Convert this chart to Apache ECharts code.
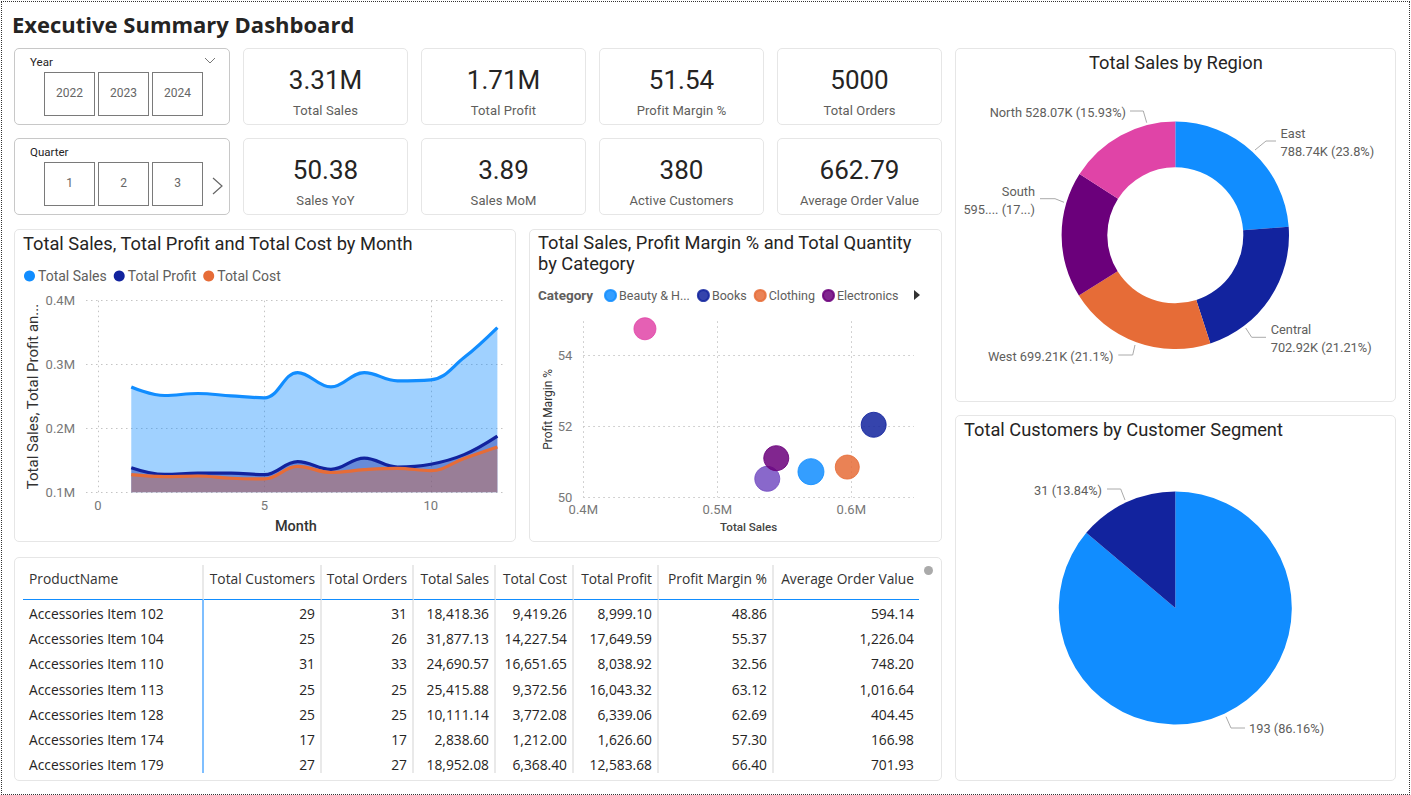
<!DOCTYPE html>
<html><head><meta charset="utf-8">
<script src="https://cdn.jsdelivr.net/npm/echarts@6/dist/echarts.min.js"></script>
<style>
html,body{margin:0;padding:0;background:#fff;width:1411px;height:795px;overflow:hidden}
#frame{position:absolute;left:1px;top:1px;width:1407px;height:792px;border:1px dotted #333}
.card{position:absolute;box-sizing:border-box;border:1px solid #e6e6e6;border-radius:5px;background:#fff}
.slicer{border-color:#c8c8c8}
#title{position:absolute;left:12px;top:9px;font:700 22px "Open Sans",sans-serif;color:#252423;white-space:nowrap}
.kv{position:absolute;left:0;right:0;text-align:center;top:13px;font:400 26px/36px Roboto,sans-serif;color:#252423}
.kl{position:absolute;left:0;right:0;text-align:center;top:53px;font:400 13px/18px Roboto,sans-serif;letter-spacing:.1px;color:#605E5C}
.sl{position:absolute;left:15px;top:6px;font:400 11.5px/14px Roboto,sans-serif;color:#252423}
.btn{position:absolute;box-sizing:border-box;top:23px;width:51px;height:44px;border:1.5px solid #7a7a7a;text-align:center;font:400 12px/41px Roboto,sans-serif;color:#666}
svg.ic{position:absolute;overflow:visible}
#chart{position:absolute;left:0;top:0;width:1411px;height:795px}
#tw{position:absolute;left:23px;top:565px;width:896px;height:208px;overflow:hidden}
table{border-collapse:separate;border-spacing:0;table-layout:fixed;width:896px;font:400 13.8px "Open Sans",sans-serif;color:#252423}
th,td{box-sizing:border-box;padding:0 5px 0 0;text-align:right;white-space:nowrap;font-weight:400;border-right:2.5px solid #e9e9e9}
th{height:35px;padding-bottom:8px;border-bottom:1.5px solid #118DFF;color:#333}
td{height:25.3px;padding-top:1px}
th:first-child,td:first-child{text-align:left;padding-left:6px}
td:first-child{border-right-color:#7fbfff}
th:last-child,td:last-child{border-right:none;padding-right:5px}
#thumb{position:absolute;left:924px;top:566px;width:9px;height:9px;border-radius:50%;background:#aaa}
</style></head><body>
<div id="frame"></div>
<div id="title">Executive Summary Dashboard</div>
<div id="cards"></div>
<div class="card" style="left:14px;top:229px;width:502px;height:313px"></div>
<div class="card" style="left:529px;top:229px;width:413px;height:313px"></div>
<div class="card" style="left:14px;top:557px;width:928px;height:224px"></div>
<div class="card" style="left:955px;top:48px;width:441px;height:354px"></div>
<div class="card" style="left:955px;top:415px;width:441px;height:366px"></div>
<div id="tw"></div><div id="thumb"></div>
<div id="chart"></div>
<script>
// ---------- KPI cards and slicers
var kpiValues=['3.31M','1.71M','51.54','5000','50.38','3.89','380','662.79'];
var kpiLabels=['Total Sales','Total Profit','Profit Margin %','Total Orders','Sales YoY','Sales MoM','Active Customers','Average Order Value'];
var yearOptions=['2022','2023','2024'];
var quarterOptions=['1','2','3'];
// ---------- Line chart
var months=[1,2,3,4,5,6,7,8,9,10,11,12];
var monthSales=[265000,251600,254700,251000,248000,287500,265000,287500,274500,276000,311000,358000];
var monthProfit=[138500,128000,130000,130000,127600,148000,136000,153600,139600,144000,159000,188000];
var monthCost=[127600,124500,125500,122000,121000,140600,131000,135400,137500,134000,153000,171000];
// ---------- Scatter chart (the last two category names are hidden behind the legend arrow)
var categories=['Beauty & H...','Books','Clothing','Electronics','Category 5','Category 6'];
var categorySales=[569900,616700,597000,544000,446000,537300];
var categoryMargin=[50.72,52.04,50.85,51.1,54.74,50.52];
var categoryQuantity=[2704,2500,2304,2500,1936,2500];
// ---------- Pies
var regions=['East','Central','West','South','North'];
var regionSales=[788.74,702.92,699.21,595.06,528.07];
var regionLabels=['East\n788.74K (23.8%)','Central\n702.92K (21.21%)','West 699.21K (21.1%)','South\n595.... (17...)','North 528.07K (15.93%)'];
var segments=['Segment A','Segment B'];
var segmentCustomers=[193,31];
var segmentLabels=['193 (86.16%)','31 (13.84%)'];
// ---------- Table
var tableHeaders=['ProductName','Total Customers','Total Orders','Total Sales','Total Cost','Total Profit','Profit Margin %','Average Order Value'];
var tableRows=[
['Accessories Item 102','29','31','18,418.36','9,419.26','8,999.10','48.86','594.14'],
['Accessories Item 104','25','26','31,877.13','14,227.54','17,649.59','55.37','1,226.04'],
['Accessories Item 110','31','33','24,690.57','16,651.65','8,038.92','32.56','748.20'],
['Accessories Item 113','25','25','25,415.88','9,372.56','16,043.32','63.12','1,016.64'],
['Accessories Item 128','25','25','10,111.14','3,772.08','6,339.06','62.69','404.45'],
['Accessories Item 174','17','17','2,838.60','1,212.00','1,626.60','57.30','166.98'],
['Accessories Item 179','27','27','18,952.08','6,368.40','12,583.68','66.40','701.93']];
var colWidths=[181,118,92,82,78,85,115,145];

var PAL=['#118DFF','#12239E','#E66C37','#6B007B','#E044A7','#744EC2'];
var GREY='#605E5C', DARK='#252423', FONT='Roboto, sans-serif';

// build DOM cards
var h='';
var kx=[243,421,599,777], ky=[48,138];
kpiValues.forEach(function(v,i){
  h+='<div class="card" style="left:'+kx[i%4]+'px;top:'+ky[i>>2]+'px;width:165px;height:77px"><div class="kv">'+v+'</div><div class="kl">'+kpiLabels[i]+'</div></div>';
});
function slicer(top,name,opts,extra){
  var s='<div class="card slicer" style="left:14px;top:'+top+'px;width:216px;height:77px"><div class="sl">'+name+'</div>';
  opts.forEach(function(o,i){s+='<div class="btn" style="left:'+(29+i*54)+'px">'+o+'</div>';});
  return s+extra+'</div>';
}
h+=slicer(48,'Year',yearOptions,'<svg class="ic" style="left:189px;top:8px" width="12" height="8"><polyline points="1,1 6,6 11,1" fill="none" stroke="#777" stroke-width="1"/></svg>');
h+=slicer(138,'Quarter',quarterOptions,'<svg class="ic" style="left:197px;top:38px" width="12" height="18"><polyline points="1,1 10,9 1,17" fill="none" stroke="#666" stroke-width="1.2"/></svg>');
document.getElementById('cards').innerHTML=h;

var t='<table><colgroup>'+colWidths.map(function(w){return '<col style="width:'+w+'px">';}).join('')+'</colgroup><thead><tr>'+
 tableHeaders.map(function(x){return '<th>'+x+'</th>';}).join('')+'</tr></thead><tbody>'+
 tableRows.map(function(r){return '<tr>'+r.map(function(c){return '<td>'+c+'</td>';}).join('')+'</tr>';}).join('')+'</tbody></table>';
document.getElementById('tw').innerHTML=t;

// ---------- ECharts
function zip(a,b){return a.map(function(x,i){return [x,b[i]];});}
function areaSeries(name,vals,color){
  return {name:name,type:'line',xAxisIndex:0,yAxisIndex:0,smooth:0.4,symbol:'none',data:zip(months,vals),
    lineStyle:{color:color,width:3.2},itemStyle:{color:color},areaStyle:{color:color,opacity:0.4}};
}
var dotted={show:true,lineStyle:{type:[1.5,3.5],color:'#c4c4c4',width:1}};
function M(v){return (v/1e6).toFixed(1)+'M';}
var scatterOrder=[0,1,2,5,3,4];
var scatterSeries=scatterOrder.map(function(i){
  return {name:categories[i],type:'scatter',xAxisIndex:1,yAxisIndex:1,
    data:[[categorySales[i],categoryMargin[i]]],
    symbolSize:Math.sqrt(categoryQuantity[i])/2,
    itemStyle:{color:PAL[i],opacity:0.85,borderColor:PAL[i],borderWidth:1}};
});
var titleFont={fontFamily:FONT,fontSize:18.3,fontWeight:400,color:DARK};
var regionLayouts=[
 {x:1280.5,y:142,align:'left',verticalAlign:'middle',labelLinePoints:[[1255,150],[1266,141],[1276,141]]},
 {x:1270.7,y:338,align:'left',verticalAlign:'middle',labelLinePoints:[[1245.7,328],[1251.7,337.3],[1266,337.3]]},
 {x:1113.5,y:356,align:'right',verticalAlign:'middle',labelLinePoints:[[1135,345],[1132.7,355],[1118.3,355]]},
 {x:1035,y:200,align:'right',verticalAlign:'middle',labelLinePoints:[[1064,202.3],[1055,198.7],[1040,198.7]]},
 {x:1126,y:112,align:'right',verticalAlign:'middle',labelLinePoints:[[1146.7,122.7],[1143.3,111],[1130,111]]}
];
var segmentLayouts=[
 {x:1249,y:728.7,align:'left',verticalAlign:'middle',labelLinePoints:[[1226,716.7],[1231,728],[1245,728]]},
 {x:1102,y:490,align:'right',verticalAlign:'middle',labelLinePoints:[[1125,500],[1120.7,489],[1107,489]]}
];
var option={
  animation:false,
  title:[
   {text:'Total Sales, Total Profit and Total Cost by Month',left:23,top:234,padding:0,textStyle:titleFont},
   {text:'Total Sales, Profit Margin % and Total Quantity\nby Category',left:538,top:232,padding:0,textStyle:Object.assign({lineHeight:21},titleFont)},
   {text:'Category',left:538,top:288,padding:0,textStyle:{fontFamily:FONT,fontSize:13.5,fontWeight:700,color:GREY}},
   {text:'Total Sales by Region',left:1089,top:53,padding:0,textStyle:titleFont},
   {text:'Total Customers by Customer Segment',left:964,top:420,padding:0,textStyle:titleFont}
  ],
  legend:[
   {data:['Total Sales','Total Profit','Total Cost'],left:24,top:269,padding:0,icon:'circle',itemWidth:11,itemHeight:11,itemGap:7,
    textStyle:{fontFamily:FONT,fontSize:14,color:GREY,padding:[0,0,0,-2]}},
   {data:categories.slice(0,4),left:604,top:289,padding:0,icon:'circle',itemWidth:11,itemHeight:11,itemGap:7,
    textStyle:{fontFamily:FONT,fontSize:12.5,color:GREY,padding:[0,0,0,-2]}}
  ],
  grid:[
   {left:86,top:300.7,width:419.7,height:191.6},
   {left:583.3,top:321.3,width:330.7,height:176}
  ],
  xAxis:[
   {gridIndex:0,type:'value',min:-0.36,max:12.25,name:'Month',nameLocation:'middle',nameGap:27,
    nameTextStyle:{fontFamily:FONT,fontSize:14.5,fontWeight:500,color:'#333'},
    axisLine:{show:false},axisTick:{show:false,customValues:[0,5,10]},
    axisLabel:{customValues:[0,5,10],fontFamily:FONT,fontSize:13,color:'#777',margin:7},splitLine:dotted},
   {gridIndex:1,type:'value',min:400000,max:646800,name:'Total Sales',nameLocation:'middle',nameGap:24,
    nameTextStyle:{fontFamily:FONT,fontSize:11.6,fontWeight:500,color:'#444'},
    axisLine:{show:false},axisTick:{show:false,customValues:[400000,500000,600000]},
    axisLabel:{customValues:[400000,500000,600000],formatter:M,fontFamily:FONT,fontSize:13,color:'#777',margin:6},splitLine:dotted}
  ],
  yAxis:[
   {gridIndex:0,type:'value',min:100000,max:400000,interval:100000,name:'Total Sales, Total Profit an...',nameLocation:'middle',nameGap:46,
    nameTextStyle:{fontFamily:FONT,fontSize:15,color:'#333'},
    axisLine:{show:false},axisTick:{show:false},
    axisLabel:{formatter:M,fontFamily:FONT,fontSize:13,color:'#777',margin:11},splitLine:dotted},
   {gridIndex:1,type:'value',min:50,max:54.95,name:'Profit Margin %',nameLocation:'middle',nameGap:29,
    nameTextStyle:{fontFamily:FONT,fontSize:12,fontWeight:400,color:'#333'},
    axisLine:{show:false},axisTick:{show:false,customValues:[50,52,54]},
    axisLabel:{customValues:[50,52,54],fontFamily:FONT,fontSize:13,color:'#777',margin:11},splitLine:dotted}
  ],
  series:[
   areaSeries('Total Sales',monthSales,PAL[0]),
   areaSeries('Total Profit',monthProfit,PAL[1]),
   areaSeries('Total Cost',monthCost,PAL[2])
  ].concat(scatterSeries).concat([
   {type:'pie',name:'Total Sales by Region',center:[1175.3,235.3],radius:[68,113.7],startAngle:90,clockwise:true,
    data:regions.map(function(r,i){return {name:r,value:regionSales[i],itemStyle:{color:PAL[i]}};}),
    label:{show:true,position:'outside',alignTo:'none',formatter:function(p){return regionLabels[p.dataIndex];},fontFamily:FONT,fontSize:12.8,lineHeight:18,color:GREY},
    labelLine:{show:true,length:12,length2:12,lineStyle:{color:'#aaa',width:1}},
    labelLayout:function(p){return regionLayouts[p.dataIndex];}},
   {type:'pie',name:'Total Customers by Customer Segment',center:[1175.3,608],radius:[0,116.5],startAngle:90,clockwise:true,
    data:segments.map(function(r,i){return {name:r,value:segmentCustomers[i],itemStyle:{color:PAL[i]}};}),
    label:{show:true,position:'outside',alignTo:'none',formatter:function(p){return segmentLabels[p.dataIndex];},fontFamily:FONT,fontSize:12.8,color:GREY},
    labelLine:{show:true,length:12,length2:14,lineStyle:{color:'#aaa',width:1}},
    labelLayout:function(p){return segmentLayouts[p.dataIndex];}}
  ]),
  graphic:[{type:'polygon',shape:{points:[[914,290],[920,295],[914,300]]},style:{fill:'#333'}}]
};
var chart=echarts.init(document.getElementById('chart'),null,{renderer:'svg',width:1411,height:795});
chart.setOption(option);
</script>
</body></html>
